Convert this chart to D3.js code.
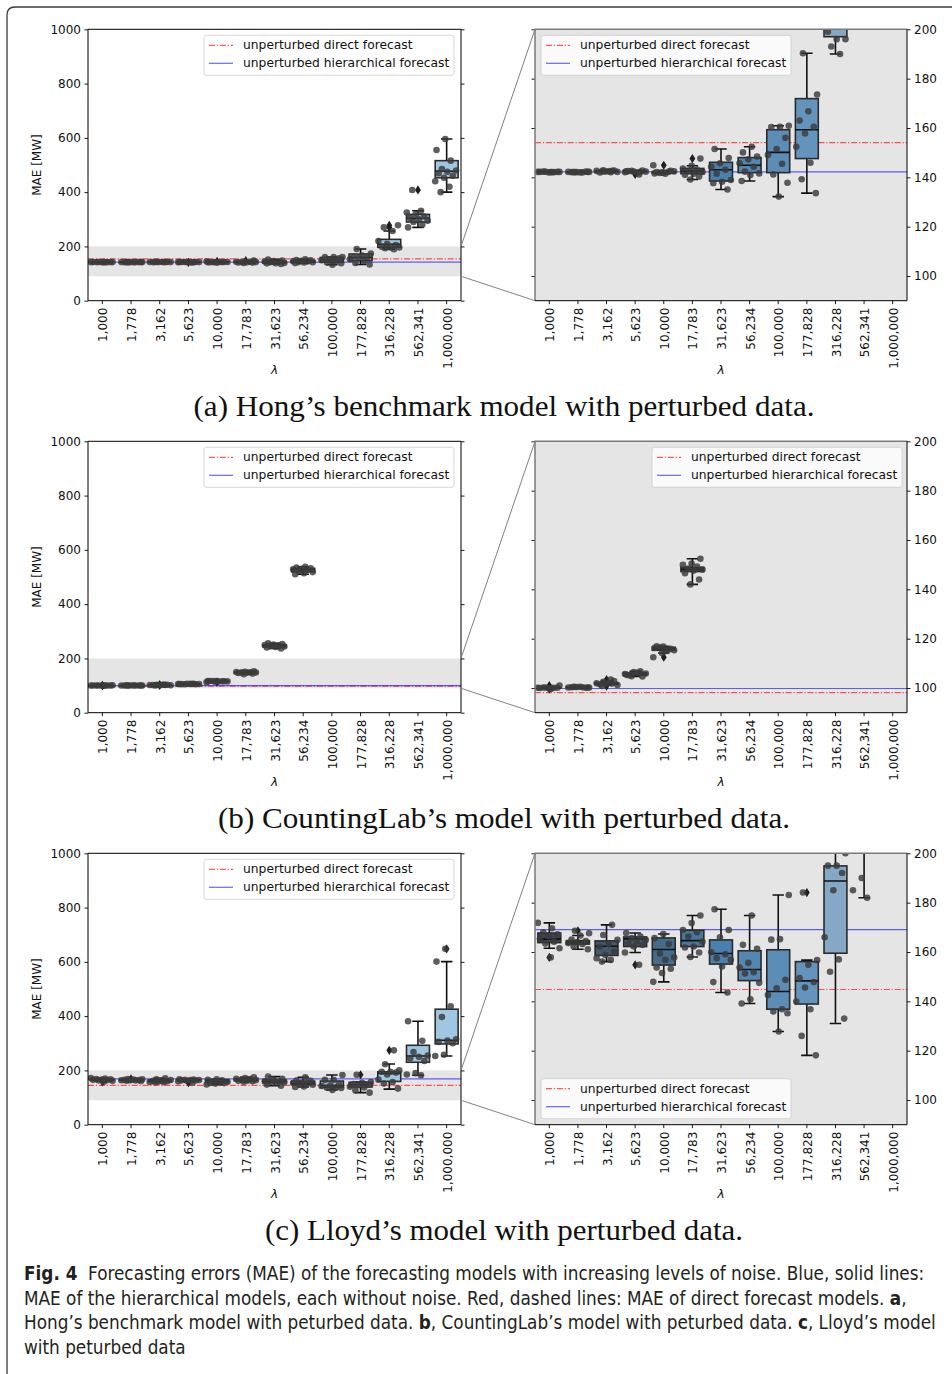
<!DOCTYPE html>
<html>
<head>
<meta charset="utf-8">
<script src="https://cdnjs.cloudflare.com/ajax/libs/d3/7.8.5/d3.min.js"></script>
<style>
    body { margin: 0; background: #fff; }
    svg text { font-family: "DejaVu Sans", sans-serif; }
</style>
</head>
<body>
<script>
//wrap everything in a self-executing anonymous function
(function(){

    //noise levels (x tick labels)
    var lambdaLabels = ["1,000", "1,778", "3,162", "5,623", "10,000", "17,783", "31,623", "56,234", "100,000", "177,828", "316,228", "562,341", "1,000,000"];

    //(a) Hong's benchmark model: MAE samples per noise level
    var hongValues = [
        [142.2, 142.1, 142.3, 142.2, 142.0, 142.2, 142.1, 142.3, 142.2, 142.1],
        [142.1, 142.2, 142.0, 142.1, 142.3, 142.1, 142.2, 142.0, 142.1, 142.2],
        [142.6, 142.9, 142.2, 142.5, 142.0, 142.7, 142.3, 142.6, 142.1, 142.4],
        [142.4, 142.2, 142.6, 142.3, 141.9, 142.5, 142.8, 142.3, 142.1, 141.2],
        [142.0, 141.6, 142.3, 141.8, 142.4, 141.5, 142.1, 142.6, 141.9, 144.9],
        [147.6, 144.7, 143.6, 143.1, 142.6, 142.2, 141.5, 141.0, 140.3, 139.1],
        [151.5, 147.8, 145.7, 144.3, 143.1, 141.5, 138.9, 138.2, 137.6, 135.1],
        [152.4, 150.1, 148.4, 147.3, 145.7, 144.3, 142.3, 141.6, 140.9, 138.5],
        [160.9, 160.5, 160.4, 156.0, 151.5, 149.1, 145.5, 141.2, 137.8, 132.2],
        [190.3, 173.6, 166.8, 163.0, 160.5, 157.8, 152.4, 145.9, 139.2, 133.6],
        [190, 193, 196, 196, 199, 205, 210, 220, 257, 270, 278],
        [270, 280, 290, 295, 300, 305, 310, 318, 325, 331, 408],
        [596, 555, 516, 485, 480, 475, 470, 460, 453, 440, 420, 400]
    ];
    //box statistics: [low whisker, q1, median, q3, high whisker]
    var hongBoxes = [
        [142.0, 142.1, 142.2, 142.2, 142.3],
        [142.0, 142.1, 142.1, 142.2, 142.3],
        [142.0, 142.2, 142.5, 142.6, 142.9],
        [141.9, 142.2, 142.4, 142.5, 142.8],
        [141.5, 141.8, 142.0, 142.3, 142.6],
        [139.1, 141.5, 142.5, 143.6, 144.7],
        [135.1, 138.5, 143.1, 146.1, 151.5],
        [138.5, 141.9, 144.9, 148.0, 152.4],
        [132.2, 141.9, 150.1, 159.3, 160.9],
        [133.6, 147.6, 159.3, 171.9, 190.3],
        [190, 197, 208, 226, 257],
        [270, 290, 303.6, 318, 331.6],
        [400, 453, 477, 516, 596]
    ];
    var hongOutliers = [[], [], [], [141.2], [144.9], [147.6], [], [], [], [], [270, 278], [408], []];
    var hongDirect = 154.1, hongHier = 142.2;

    //(b) CountingLab's model
    var countingValues = [
        [100.1, 100.0, 100.2, 100.1, 99.9, 100.0, 100.1, 100.2, 101.0, 99.6],
        [100.4, 100.2, 100.5, 100.3, 100.1, 100.4, 100.2, 100.3, 100.5, 100.2],
        [101.8, 102.5, 101.2, 102.0, 101.5, 102.8, 101.6, 101.9, 103.4, 100.8],
        [105.5, 106.8, 104.8, 105.9, 106.2, 105.2, 104.7, 106.5, 105.7, 106.0],
        [116.8, 116.2, 115.6, 116.5, 115.3, 114.9, 116.9, 115.9, 114.2, 112.5],
        [152.4, 150.5, 149.9, 149.2, 148.4, 148.0, 147.6, 146.5, 144.0, 142.0],
        [256, 253, 251, 249, 247, 246, 244, 242, 240, 237],
        [538, 535, 532, 530, 528, 526, 522, 518, 514, 510],
        [], [], [], [], []
    ];
    var countingBoxes = [
        [99.9, 100.0, 100.1, 100.15, 100.2],
        [100.1, 100.2, 100.3, 100.4, 100.5],
        [101.2, 101.5, 101.85, 102.2, 102.8],
        [104.7, 105.2, 105.75, 106.1, 106.8],
        [114.2, 115.3, 115.75, 116.5, 116.9],
        [142.0, 147.2, 148.1, 148.9, 152.4],
        [237, 242.5, 246.5, 250, 256],
        [510, 519, 527, 532, 538],
        null, null, null, null, null
    ];
    var countingOutliers = [[101.0, 99.6], [], [103.4, 100.8], [], [112.5], [], [], [], [], [], [], [], []];
    var countingDirect = 98.1, countingHier = 99.8;

    //(c) Lloyd's model
    var lloydValues = [
        [171.8, 169.6, 168.0, 167.2, 166.3, 165.3, 164.2, 163.4, 161.5, 157.8],
        [168.6, 167.6, 166.7, 165.0, 164.4, 164.0, 163.6, 163.2, 162.2, 161.1],
        [171.0, 166.9, 164.9, 163.2, 162.2, 160.2, 158.8, 157.5, 156.8, 156.1],
        [167.7, 166.3, 165.6, 164.9, 164.2, 163.4, 162.9, 162.2, 159.8, 154.8],
        [167.3, 165.6, 163.2, 159.4, 157.8, 156.8, 153.7, 153.2, 151.5, 147.9],
        [174.8, 171.7, 168.9, 168.0, 166.3, 164.2, 162.2, 161.8, 159.8, 158.0],
        [177.3, 168.9, 166.0, 159.9, 159.1, 157.5, 156.8, 154.1, 147.8, 143.6],
        [174.8, 162.9, 161.3, 155.6, 153.7, 151.8, 151.3, 147.5, 140.8, 139.1],
        [183.1, 165.2, 165.0, 148.7, 145.3, 142.6, 136.8, 135.9, 135.2, 127.8],
        [184.1, 156.7, 154.8, 149.4, 147.8, 145.6, 139.9, 136.8, 126.0, 118.1],
        [274, 223, 200, 195, 195, 192, 185, 166, 157, 152, 133],
        [381, 309, 268, 255, 250, 245, 235, 190, 185, 182],
        [648, 601, 436, 397, 315, 310, 305, 300, 258, 253]
    ];
    var lloydBoxes = [
        [161.5, 163.8, 165.2, 167.7, 171.8],
        [161.1, 163.2, 164.0, 164.6, 166.7],
        [156.1, 158.6, 162.3, 164.5, 171.0],
        [159.8, 162.2, 165.3, 166.1, 167.7],
        [147.9, 154.7, 161.0, 165.7, 167.3],
        [158.0, 162.2, 164.6, 168.8, 174.8],
        [143.6, 155.1, 159.4, 164.9, 177.3],
        [139.1, 148.4, 152.9, 160.5, 174.8],
        [127.8, 136.8, 144.0, 160.9, 183.1],
        [118.1, 138.9, 148.3, 156.1, 156.7],
        [131, 159.5, 188.8, 194.9, 223.6],
        [182, 230, 253, 292.6, 381],
        [253, 297.6, 311, 425.6, 601]
    ];
    var lloydOutliers = [[157.8], [168.6], [], [154.8], [], [], [], [], [], [184.1], [274], [], [648]];
    var lloydDirect = 144.8, lloydHier = 169.1;

    var captions = [
        "(a) Hong’s benchmark model with perturbed data.",
        "(b) CountingLab’s model with perturbed data.",
        "(c) Lloyd’s model with perturbed data."
    ];
    var captionWidths = [621, 572, 478];

    //layout
    var rowTops = [29.3, 441.3, 853.3],
        plotH = 271.4,
        leftX = [88, 461],
        rightX = [535, 907];

    //legend placement per row: [left panel, right panel]
    var legendPos = [
        [{x: 204, anchor: "top"}, {x: 541, anchor: "top"}],
        [{x: 204, anchor: "top"}, {x: 652, anchor: "top"}],
        [{x: 204, anchor: "top"}, {x: 541, anchor: "bottom"}]
    ];

    var models = [
        {values: hongValues, boxes: hongBoxes, outliers: hongOutliers, direct: hongDirect, hier: hongHier},
        {values: countingValues, boxes: countingBoxes, outliers: countingOutliers, direct: countingDirect, hier: countingHier},
        {values: lloydValues, boxes: lloydBoxes, outliers: lloydOutliers, direct: lloydDirect, hier: lloydHier}
    ];

    //dark palette for zoomed boxes
    var darkPalette = d3.scaleLinear()
        .domain([0, 3, 6, 9, 10, 12])
        .range(["#3a4753", "#44627c", "#4a80ad", "#6494bc", "#84a8c5", "#9cbfd9"])
        .interpolate(d3.interpolateRgb);
    var lightFill = "#9fc7e1";

    var clipCount = 0;

    var svg = d3.select("body")
        .append("svg")
        .attr("width", 952)
        .attr("height", 1374);

    //figure frame
    svg.append("path")
        .attr("d", "M7,1374 L7,15 Q7,7 15,7 L952,7")
        .attr("fill", "none")
        .attr("stroke", "#3a3a3a")
        .attr("stroke-width", 1.3);

    models.forEach(function(m, r){
        var top = rowTops[r];
        var yL = drawPanel(m, top, false, legendPos[r][0]);
        drawPanel(m, top, true, legendPos[r][1]);

        //zoom connectors
        svg.append("line")
            .attr("x1", leftX[1]).attr("y1", yL(200))
            .attr("x2", rightX[0]).attr("y2", top)
            .attr("stroke", "#808080").attr("stroke-width", 1);
        svg.append("line")
            .attr("x1", leftX[1]).attr("y1", yL(90))
            .attr("x2", rightX[0]).attr("y2", top + plotH)
            .attr("stroke", "#808080").attr("stroke-width", 1);

        //sub caption
        svg.append("text")
            .attr("x", 504)
            .attr("y", top + 387)
            .attr("text-anchor", "middle")
            .attr("textLength", captionWidths[r])
            .attr("lengthAdjust", "spacingAndGlyphs")
            .style("font-family", "'Liberation Serif', 'DejaVu Serif', serif")
            .style("font-size", "29px")
            .attr("fill", "#111")
            .text(captions[r]);
    });

    //deterministic spread of strip points inside a band
    function jitter(i, c){
        return ((i * 0.6180339887 + c * 0.37) % 1) - 0.5;
    };

    function drawPanel(m, top, zoomed, legend){
        var x0 = zoomed ? rightX[0] : leftX[0],
            x1 = zoomed ? rightX[1] : leftX[1],
            bottom = top + plotH;

        var x = d3.scaleBand().domain(lambdaLabels).range([x0, x1]);
        var y = d3.scaleLinear()
            .domain(zoomed ? [90, 200] : [0, 1000])
            .range([bottom, top]);
        var bw = x.bandwidth(),
            boxW = bw * 0.8;

        var g = svg.append("g");

        var clipId = "clip" + (clipCount++);
        svg.append("clipPath").attr("id", clipId)
            .append("rect")
            .attr("x", x0).attr("y", top)
            .attr("width", x1 - x0).attr("height", plotH);

        //background
        if (zoomed){
            g.append("rect")
                .attr("x", x0).attr("y", top)
                .attr("width", x1 - x0).attr("height", plotH)
                .attr("fill", "#e5e5e5");
        } else {
            g.append("rect")
                .attr("x", x0).attr("y", y(200))
                .attr("width", x1 - x0).attr("height", y(90) - y(200))
                .attr("fill", "#e5e5e5");
        };

        var plot = g.append("g").attr("clip-path", "url(#" + clipId + ")");

        //reference lines
        plot.append("line")
            .attr("x1", x0).attr("x2", x1)
            .attr("y1", y(m.direct)).attr("y2", y(m.direct))
            .attr("stroke", "#ff0000").attr("stroke-opacity", 0.65)
            .attr("stroke-width", 1.2)
            .attr("stroke-dasharray", "6,1.8,1.3,1.8");
        plot.append("line")
            .attr("x1", x0).attr("x2", x1)
            .attr("y1", y(m.hier)).attr("y2", y(m.hier))
            .attr("stroke", "#0000ff").attr("stroke-opacity", 0.6)
            .attr("stroke-width", 1.2);

        //box data
        var boxData = [];
        lambdaLabels.forEach(function(lab, i){
            if (m.boxes[i]) boxData.push({lab: lab, i: i, s: m.boxes[i]});
        });

        var boxes = plot.selectAll(".box")
            .data(boxData)
            .enter()
            .append("g")
            .attr("class", "box");

        var edge = "#2b2b2b";

        //whiskers
        boxes.append("line")
            .attr("x1", function(d){ return x(d.lab) + bw / 2; })
            .attr("x2", function(d){ return x(d.lab) + bw / 2; })
            .attr("y1", function(d){ return y(d.s[0]); })
            .attr("y2", function(d){ return y(d.s[1]); })
            .attr("stroke", "#111").attr("stroke-width", 1.6);
        boxes.append("line")
            .attr("x1", function(d){ return x(d.lab) + bw / 2; })
            .attr("x2", function(d){ return x(d.lab) + bw / 2; })
            .attr("y1", function(d){ return y(d.s[3]); })
            .attr("y2", function(d){ return y(d.s[4]); })
            .attr("stroke", "#111").attr("stroke-width", 1.6);
        //caps
        [0, 4].forEach(function(k){
            boxes.append("line")
                .attr("x1", function(d){ return x(d.lab) + bw / 2 - boxW / 4; })
                .attr("x2", function(d){ return x(d.lab) + bw / 2 + boxW / 4; })
                .attr("y1", function(d){ return y(d.s[k]); })
                .attr("y2", function(d){ return y(d.s[k]); })
                .attr("stroke", "#111").attr("stroke-width", 1.6);
        });
        //box body
        boxes.append("rect")
            .attr("x", function(d){ return x(d.lab) + (bw - boxW) / 2; })
            .attr("y", function(d){ return y(d.s[3]); })
            .attr("width", boxW)
            .attr("height", function(d){ return Math.max(0.5, y(d.s[1]) - y(d.s[3])); })
            .attr("fill", function(d){ return zoomed ? darkPalette(d.i) : lightFill; })
            .attr("stroke", edge).attr("stroke-width", 1.6);
        //median
        boxes.append("line")
            .attr("x1", function(d){ return x(d.lab) + (bw - boxW) / 2; })
            .attr("x2", function(d){ return x(d.lab) + (bw + boxW) / 2; })
            .attr("y1", function(d){ return y(d.s[2]); })
            .attr("y2", function(d){ return y(d.s[2]); })
            .attr("stroke", "#111").attr("stroke-width", 1.6);

        //outliers (diamonds)
        var outData = [];
        lambdaLabels.forEach(function(lab, i){
            m.outliers[i].forEach(function(v){ outData.push({lab: lab, v: v}); });
        });
        plot.selectAll(".flier")
            .data(outData)
            .enter()
            .append("path")
            .attr("class", "flier")
            .attr("d", "M0,-4.6 L2.9,0 L0,4.6 L-2.9,0 Z")
            .attr("transform", function(d){
                return "translate(" + (x(d.lab) + bw / 2) + "," + y(d.v) + ")";
            })
            .attr("fill", "#1e1e1e");

        //strip points
        var ptData = [];
        lambdaLabels.forEach(function(lab, i){
            m.values[i].forEach(function(v, k){ ptData.push({lab: lab, c: i, k: k, v: v}); });
        });
        plot.selectAll(".pt")
            .data(ptData)
            .enter()
            .append("circle")
            .attr("class", "pt")
            .attr("cx", function(d){ return x(d.lab) + bw / 2 + jitter(d.k, d.c) * bw * 0.8; })
            .attr("cy", function(d){ return y(d.v); })
            .attr("r", 3.3)
            .attr("fill", "#3a3a3a")
            .attr("fill-opacity", 0.82);

        //axes
        var yTicks = zoomed ? [100, 120, 140, 160, 180, 200] : [0, 200, 400, 600, 800, 1000];
        var axisL = d3.axisLeft(y).tickValues(yTicks).tickSize(3.5).tickPadding(3.5).tickFormat(d3.format("d"));
        var axisR = d3.axisRight(y).tickValues(yTicks).tickSize(3.5).tickPadding(3.5).tickFormat(d3.format("d"));
        if (zoomed) axisL.tickFormat(""); else axisR.tickFormat("");
        var axisB = d3.axisBottom(x).tickSize(3.5).tickPadding(3.5);

        var aL = svg.append("g").attr("transform", "translate(" + x0 + ",0)").call(axisL);
        var aR = svg.append("g").attr("transform", "translate(" + x1 + ",0)").call(axisR);
        var aB = svg.append("g").attr("transform", "translate(0," + bottom + ")").call(axisB);
        [aL, aR, aB].forEach(function(a){
            a.select(".domain").remove();
            a.selectAll("line").attr("stroke", "#000").attr("stroke-width", 0.9);
            a.selectAll("text")
                .style("font-family", "'DejaVu Sans', sans-serif")
                .style("font-size", "12px")
                .attr("fill", "#111");
        });
        aB.selectAll("text")
            .attr("transform", "rotate(-90)")
            .attr("text-anchor", "end")
            .attr("x", -7)
            .attr("y", 0)
            .attr("dy", "0.42em");

        //spines
        var spineColor = zoomed ? "#7a7a7a" : "#000";
        svg.append("path")
            .attr("d", "M" + x0 + "," + bottom + "V" + top + "H" + x1)
            .attr("fill", "none").attr("stroke", spineColor).attr("stroke-width", zoomed ? 1.5 : 1);
        svg.append("path")
            .attr("d", "M" + x0 + "," + bottom + "H" + x1 + "V" + top)
            .attr("fill", "none").attr("stroke", "#000").attr("stroke-width", 1);

        //axis labels
        if (!zoomed){
            svg.append("text")
                .attr("transform", "translate(41," + (top + plotH / 2) + ") rotate(-90)")
                .attr("text-anchor", "middle")
                .style("font-size", "12px")
                .attr("fill", "#111")
                .text("MAE [MW]");
        };
        svg.append("text")
            .attr("x", (x0 + x1) / 2)
            .attr("y", top + 345)
            .attr("text-anchor", "middle")
            .style("font-size", "12px")
            .style("font-style", "italic")
            .attr("fill", "#111")
            .text("λ");

        //legend
        var lgW = 250, lgH = 40;
        var lgY = legend.anchor == "top" ? top + 6 : bottom - 6 - lgH;
        var lg = svg.append("g").attr("transform", "translate(" + legend.x + "," + lgY + ")");
        lg.append("rect")
            .attr("width", lgW).attr("height", lgH)
            .attr("rx", 2.5)
            .attr("fill", "#fff").attr("fill-opacity", 0.8)
            .attr("stroke", "#cccccc").attr("stroke-width", 0.8);
        lg.append("line")
            .attr("x1", 5).attr("x2", 29).attr("y1", 10).attr("y2", 10)
            .attr("stroke", "#ff0000").attr("stroke-opacity", 0.65)
            .attr("stroke-width", 1.2)
            .attr("stroke-dasharray", "6,1.8,1.3,1.8");
        lg.append("line")
            .attr("x1", 5).attr("x2", 29).attr("y1", 28).attr("y2", 28)
            .attr("stroke", "#0000ff").attr("stroke-opacity", 0.6)
            .attr("stroke-width", 1.2);
        lg.append("text").attr("x", 39).attr("y", 14.2)
            .style("font-size", "12.3px").attr("fill", "#111")
            .text("unperturbed direct forecast");
        lg.append("text").attr("x", 39).attr("y", 32.2)
            .style("font-size", "12.3px").attr("fill", "#111")
            .text("unperturbed hierarchical forecast");

        return y;
    };

    //figure caption
    var capFont = "'Liberation Sans Narrow', 'DejaVu Sans Condensed', 'Noto Sans', sans-serif";
    var capLines = [
        {y: 1280, parts: [["Fig. 4", true], ["  Forecasting errors (MAE) of the forecasting models with increasing levels of noise. Blue, solid lines:", false]]},
        {y: 1304.5, parts: [["MAE of the hierarchical models, each without noise. Red, dashed lines: MAE of direct forecast models. ", false], ["a", true], [",", false]]},
        {y: 1329, parts: [["Hong’s benchmark model with peturbed data. ", false], ["b", true], [", CountingLab’s model with peturbed data. ", false], ["c", true], [", Lloyd’s model", false]]},
        {y: 1353.5, parts: [["with peturbed data", false]]}
    ];
    var capTexts = capLines.map(function(line){
        var t = svg.append("text")
            .attr("x", 24)
            .attr("y", line.y)
            .style("font-family", capFont)
            .style("font-size", "19px")
            .attr("fill", "#231f20")
            .style("white-space", "pre");
        line.parts.forEach(function(p){
            t.append("tspan")
                .style("font-weight", p[1] ? "bold" : "normal")
                .text(p[0]);
        });
        return t;
    });
    //scale the caption font so the first line spans the text block width
    var w1 = capTexts[0].node().getComputedTextLength();
    var capSize = Math.min(20, 19 * 901 / w1);
    capTexts.forEach(function(t){ t.style("font-size", capSize + "px"); });

})();
</script>
</body>
</html>
